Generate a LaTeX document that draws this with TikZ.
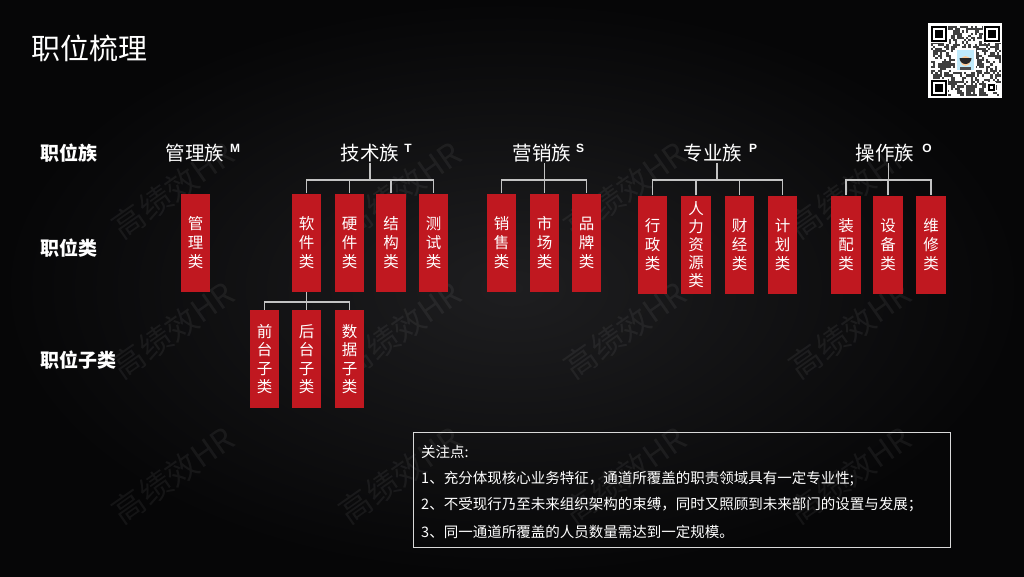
\documentclass[tikz,border=0pt]{standalone}
\usepackage{fontspec}
\setmainfont{Noto Sans CJK SC}
\newfontfamily\arialf{Liberation Sans}
\usetikzlibrary{calc}
\definecolor{boxred}{RGB}{192,24,32}
\definecolor{connc}{RGB}{195,195,195}
\definecolor{bgin}{RGB}{30,30,32}
\definecolor{bgout}{RGB}{6,6,7}
\begin{document}
\begin{tikzpicture}[x=1pt,y=-1pt,
  cat/.style={fill=boxred, text=white, minimum width=29.5pt, minimum height=98pt,
    inner sep=0pt, align=center, font=\fontsize{15.5}{19}\selectfont},
  subcat/.style={cat, font=\fontsize{15.5}{18.5}\selectfont},
  longcat/.style={cat, font=\fontsize{15.5}{18}\selectfont},
  hdr/.style={text=white, inner sep=1pt, font=\fontsize{19.5}{20}\selectfont},
  suplab/.style={text=white, inner sep=0pt, font=\arialf\bfseries\fontsize{12}{12}\selectfont},
  rowlab/.style={text=white, inner sep=0pt, anchor=west, font=\bfseries\fontsize{19}{20}\selectfont},
  conn/.style={draw=connc, line width=1.1pt},
  wm/.style={text=white, opacity=0.06, font=\fontsize{32}{32}\selectfont, rotate=35},
  noteline/.style={text=white, anchor=west, inner sep=0pt, font=\fontsize{14.5}{15}\selectfont},
]
\useasboundingbox (0,0) rectangle (1024,576);
\shade[inner color=bgin, outer color=bgout] (0,0) rectangle (1024,576);

% watermarks
\foreach \wx in {173,400,625,850}{
  \foreach \wy in {190,330,475}{
    \node[wm] at (\wx,\wy) {高绩效HR};
  }
}

% title
\node[text=white, anchor=west, inner sep=0pt, font=\fontsize{29}{30}\selectfont] (title) at (31,48) {职位梳理};

% QR code
\fill[white] (928,23) rectangle (1002,98);
\pgfmathsetseed{7}
\foreach \i in {0,...,31}{
  \foreach \j in {0,...,31}{
    \pgfmathrandominteger{\r}{0}{1}
    \ifnum\r=1
      \fill[black!75] ({931+\i*2.2},{26+\j*2.2}) rectangle ++(2.2,2.2);
    \fi
  }
}
\foreach \qx/\qy in {931/26, 984/26, 931/80}{
  \fill[white] (\qx-1,\qy-1) rectangle ++(18,18);
  \fill[black] (\qx,\qy) rectangle ++(16,16);
  \fill[white] (\qx+2.2,\qy+2.2) rectangle ++(11.6,11.6);
  \fill[black] (\qx+4.4,\qy+4.4) rectangle ++(7.2,7.2);
}
\fill[white] (986,82) rectangle ++(10,10);
\fill[black] (987.5,83.5) rectangle ++(7,7);
\fill[white] (989.5,85.5) rectangle ++(3,3);
\fill[white] (955,48) rectangle (976,72);
\fill[cyan!25] (957,50) rectangle (974,70);
\fill[orange!40!white] (965.5,61) circle (5);
\fill[black!85] (959.5,58) arc[start angle=180,end angle=0,radius=6] -- cycle;
\fill[black!70] (960,70) rectangle (971,67);

% row labels
\node[rowlab] (r1) at (40,153) {职位族};
\node[rowlab] (r2) at (40,248) {职位类};
\node[rowlab] (r3) at (40,360) {职位子类};

% family headers
\node[hdr] (hM) at (195,153) {管理族};
\node[hdr] (hT) at (370,153) {技术族};
\node[hdr] (hS) at (542,153) {营销族};
\node[hdr] (hP) at (713,153) {专业族};
\node[hdr] (hO) at (885,153) {操作族};
\node[suplab] (sM) at (235,148) {M};
\node[suplab] (sT) at (408,148) {T};
\node[suplab] (sS) at (580,148) {S};
\node[suplab] (sP) at (753,148) {P};
\node[suplab] (sO) at (927,148) {O};

% category boxes
\node[cat] (bM) at (195.5,242.5) {管\\理\\类};
\node[cat] (bT1) at (306.5,242.5) {软\\件\\类};
\node[cat] (bT2) at (349.5,242.5) {硬\\件\\类};
\node[cat] (bT3) at (391,242.5) {结\\构\\类};
\node[cat] (bT4) at (433.5,242.5) {测\\试\\类};
\node[cat] (bS1) at (501.5,242.5) {销\\售\\类};
\node[cat] (bS2) at (544.5,242.5) {市\\场\\类};
\node[cat] (bS3) at (586.5,242.5) {品\\牌\\类};
\node[cat] (bP1) at (652.5,244.5) {行\\政\\类};
\node[longcat] (bP2) at (696,244.5) {人\\力\\资\\源\\类};
\node[cat] (bP3) at (739.5,244.5) {财\\经\\类};
\node[cat] (bP4) at (782.5,244.5) {计\\划\\类};
\node[cat] (bO1) at (846,244.5) {装\\配\\类};
\node[cat] (bO2) at (888,244.5) {设\\备\\类};
\node[cat] (bO3) at (931,244.5) {维\\修\\类};

% sub-category boxes
\node[subcat] (c1) at (264.5,359) {前\\台\\子\\类};
\node[subcat] (c2) at (306.5,359) {后\\台\\子\\类};
\node[subcat] (c3) at (349.5,359) {数\\据\\子\\类};

% junctions
\coordinate (jT) at (370,180);
\coordinate (jS) at (544.5,180);
\coordinate (jP) at (717,180);
\coordinate (jO) at (888.5,180);
\coordinate (jC) at (306.5,302);

% connectors
\draw[conn] (hT.south -| jT) -- (jT);
\draw[conn] (bT1.north) |- (jT) -| (bT4.north);
\draw[conn] (bT2.north) -- (bT2.north |- jT);
\draw[conn] (bT3.north) -- (bT3.north |- jT);

\draw[conn] (hS.south -| jS) -- (jS);
\draw[conn] (bS1.north) |- (jS) -| (bS3.north);
\draw[conn] (bS2.north) -- (bS2.north |- jS);

\draw[conn] (hP.south -| jP) -- (jP);
\draw[conn] (bP1.north) |- (jP) -| (bP4.north);
\draw[conn] (bP2.north) -- (bP2.north |- jP);
\draw[conn] (bP3.north) -- (bP3.north |- jP);

\draw[conn] (hO.south -| jO) -- (jO);
\draw[conn] (bO1.north) |- (jO) -| (bO3.north);
\draw[conn] (bO2.north) -- (bO2.north |- jO);

\draw[conn] (bT1.south) -- (jC);
\draw[conn] (c1.north) |- (jC) -| (c3.north);
\draw[conn] (c2.north) -- (c2.north |- jC);

% note box
\node[draw=white!85!black, line width=0.9pt, anchor=north west, minimum width=537pt, minimum height=115pt, inner sep=0pt] (note) at (413,432) {};
\node[noteline] (n0) at (421,452) {关注点:};
\node[noteline] (n1) at (421,479) {1、充分体现核心业务特征，通道所覆盖的职责领域具有一定专业性;};
\node[noteline] (n2) at (421,505) {2、不受现行乃至未来组织架构的束缚，同时又照顾到未来部门的设置与发展；};
\node[noteline] (n3) at (421,532) {3、同一通道所覆盖的人员数量需达到一定规模。};
\end{tikzpicture}
\end{document}
